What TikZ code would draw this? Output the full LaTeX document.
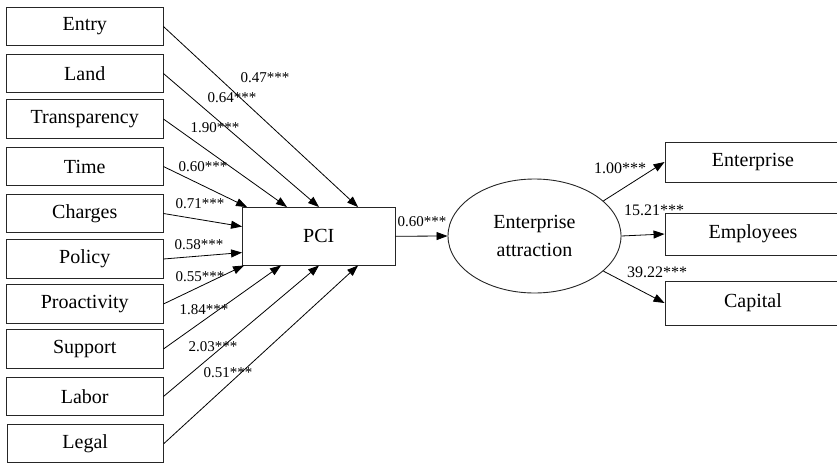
\documentclass[tikz,border=0pt]{standalone}
\usepackage{fontspec}
\setmainfont{Liberation Serif}
\usetikzlibrary{arrows.meta,shapes.geometric}
\begin{document}
\begin{tikzpicture}[x=1pt,y=-1pt,
  box/.style={draw=black!85,line width=0.9pt,minimum width=156.5pt,minimum height=38.5pt,inner sep=0pt,font=\fontsize{20}{24}\selectfont},
  rbox/.style={draw=black!85,line width=0.9pt,minimum width=176pt,inner sep=0pt,font=\fontsize{20}{24}\selectfont},
  arr/.style={line width=0.8pt,-{Triangle[length=11pt,width=8pt]}},
  lab/.style={inner sep=0pt,font=\fontsize{15}{18}\selectfont},
  rlab/.style={inner sep=0pt,font=\fontsize{16}{18}\selectfont}]
\useasboundingbox (0,0) rectangle (837,466);
% left boxes
\node[box] (entry) at (84.75,26.5) {Entry};
\node[box] (land) at (84.75,73.5) {Land};
\node[box] (transp) at (84.75,119) {Transparency};
\node[box] (time) at (84.75,166.5) {Time};
\node[box] (charges) at (84.75,213.5) {Charges};
\node[box] (policy) at (84.75,259) {Policy};
\node[box] (proact) at (84.75,304) {Proactivity};
\node[box] (support) at (84.75,349) {Support};
\node[box] (labor) at (84.75,396.5) {Labor};
\node[box] (legal) at (85.25,443.5) {Legal};
% PCI
\node[draw=black!85,line width=0.9pt,minimum width=152.5pt,minimum height=57.5pt,inner sep=0pt,font=\fontsize{20}{24}\selectfont] (pci) at (318.75,236.25) {PCI};
% ellipse
\node[draw=black!85,line width=0.9pt,ellipse,minimum width=173pt,minimum height=114pt,inner sep=0pt,align=center,font=\fontsize{20}{28}\selectfont] (ea) at (534.5,236) {Enterprise\\attraction};
% right boxes (right edge runs off the picture, as in the reference)
\node[rbox,minimum height=40pt] (ent) at (753,162) {Enterprise};
\node[rbox,minimum height=42pt] (emp) at (753,234) {Employees};
\node[rbox,minimum height=44pt] (cap) at (753,303) {Capital};
% arrows into PCI
\draw[arr] (entry.east) -- ([xshift=116pt]pci.north west);
\draw[arr] (land.east) -- ([xshift=77pt]pci.north west);
\draw[arr] (transp.east) -- ([xshift=45pt]pci.north west);
\draw[arr] (time.east) -- ([xshift=5pt]pci.north west);
\draw[arr] (charges.east) -- ([yshift=-19.5pt]pci.north west);
\draw[arr] (policy.east) -- ([yshift=-45.5pt]pci.north west);
\draw[arr] (proact.east) -- ([xshift=2pt]pci.south west);
\draw[arr] (support.east) -- ([xshift=39pt]pci.south west);
\draw[arr] (labor.east) -- ([xshift=77pt]pci.south west);
\draw[arr] (legal.east) -- ([xshift=116pt]pci.south west);
\draw[arr] (pci.east) -- (ea.west);
\draw[arr] (ea.27) -- (ent.west);
\draw[arr] (ea.east) -- (emp.west);
\draw[arr] (ea.-27) -- (cap.west);
% labels
\node[lab] (l1) at (265,78) {0.47***};
\node[lab] (l2) at (232,98) {0.64***};
\node[lab] (l3) at (215,128) {1.90***};
\node[lab] (l4) at (203,167) {0.60***};
\node[lab] (l5) at (200,204) {0.71***};
\node[lab] (l6) at (199,245) {0.58***};
\node[lab] (l7) at (200,277) {0.55***};
\node[lab] (l8) at (204,310) {1.84***};
\node[lab] (l9) at (213,347) {2.03***};
\node[lab] (l10) at (228,373) {0.51***};
\node[lab] (lm) at (422,222) {0.60***};
\node[rlab] (r1) at (620,168) {1.00***};
\node[rlab] (r2) at (654,210) {15.21***};
\node[rlab] (r3) at (657,272) {39.22***};
\end{tikzpicture}
\end{document}
